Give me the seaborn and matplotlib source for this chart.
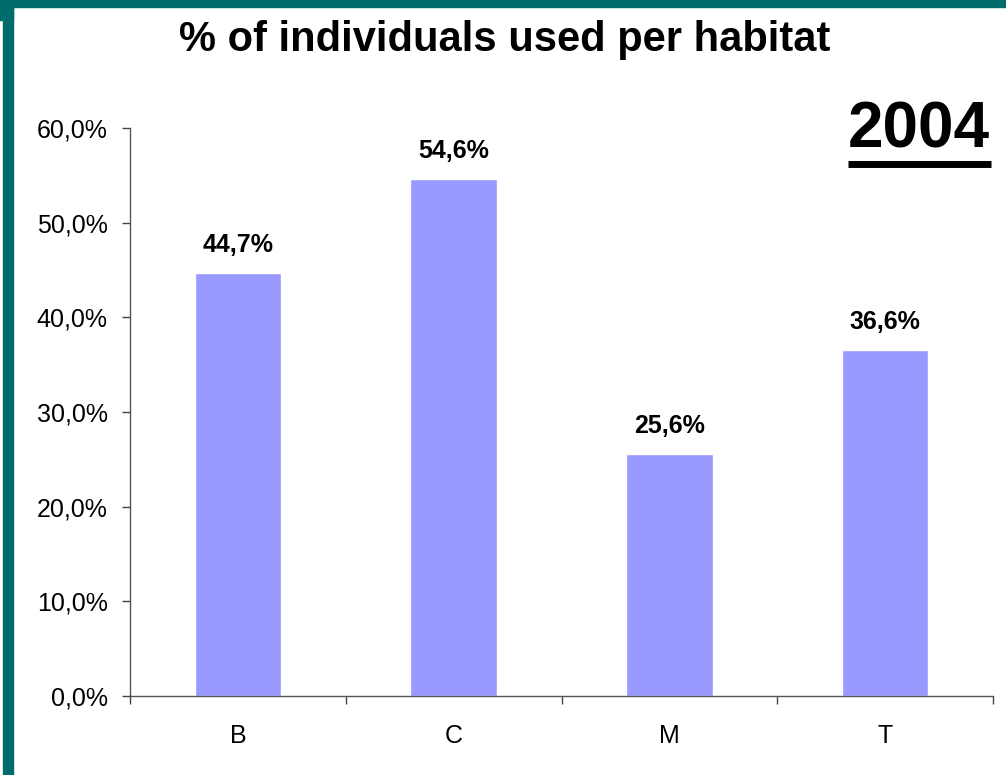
import matplotlib.pyplot as plt
import matplotlib.patches as mpatches
from matplotlib.lines import Line2D
import seaborn as sns
import pandas as pd

habitats = ["B", "C", "M", "T"]
percent_used = [44.7, 54.6, 25.6, 36.6]
value_labels = ["44,7%", "54,6%", "25,6%", "36,6%"]
y_ticks = [0, 10, 20, 30, 40, 50, 60]
y_tick_labels = ["0,0%", "10,0%", "20,0%", "30,0%", "40,0%", "50,0%", "60,0%"]

sns.set_theme(style="ticks", rc={"text.color": "black", "xtick.color": "#444444",
                                 "ytick.color": "#444444", "xtick.labelcolor": "black",
                                 "ytick.labelcolor": "black"})
plt.rcParams['font.family'] = ['Liberation Sans', 'DejaVu Sans']

W, H = 1006, 775
fig = plt.figure(figsize=(W / 100, H / 100), dpi=100)
fig.patch.set_facecolor("white")

# slide frame (teal band on top and left)
teal = "#006B6B"
fig.patches.append(mpatches.Rectangle((0, 1 - 7 / H), 1, 7 / H, transform=fig.transFigure,
                                      color=teal, zorder=0))
fig.patches.append(mpatches.Rectangle((3 / W, 0), 10 / W, 1, transform=fig.transFigure,
                                      color=teal, zorder=0))
fig.patches.append(mpatches.Rectangle((0, 1 - 20 / H), 13 / W, 20 / H, transform=fig.transFigure,
                                      color=teal, zorder=0))

ax = fig.add_axes([130 / W, 1 - 696 / H, (993 - 130) / W, (696 - 128) / H])
df = pd.DataFrame({"habitat": habitats, "pct": percent_used})
sns.barplot(data=df, x="habitat", y="pct", color="#9999FF", width=0.4, saturation=1, ax=ax)

ax.set_ylim(0, 60)
ax.set_xlim(-0.5, len(habitats) - 0.5)
ax.set_yticks(y_ticks)
ax.set_yticklabels(y_tick_labels, fontsize=18)
ax.set_xticks(range(len(habitats)))
ax.set_xticklabels(habitats, fontsize=18)
ax.set_xlabel("")
ax.set_ylabel("")

# category separators as minor ticks on the x axis
ax.set_xticks([i + 0.5 for i in range(-1, len(habitats))], minor=True)
ax.tick_params(axis="x", which="major", bottom=True, length=0, pad=20)
ax.tick_params(axis="x", which="minor", bottom=True, length=6, width=1, direction="out")
ax.tick_params(axis="y", left=True, length=6, width=1, direction="out", pad=10)

for side in ["top", "right"]:
    ax.spines[side].set_visible(False)
for side in ["left", "bottom"]:
    ax.spines[side].set_color("#555555")
    ax.spines[side].set_linewidth(1)

for i, (v, lab) in enumerate(zip(percent_used, value_labels)):
    ax.annotate(lab, (i, v), xytext=(0, 15), textcoords="offset points",
                ha="center", va="baseline", fontsize=18, fontweight="bold")

fig.text(505 / W, 1 - 40 / H, "% of individuals used per habitat", ha="center", va="center",
         fontsize=30, fontweight="bold")
fig.text(919 / W, 1 - 131 / H, "2004", ha="center", va="center", fontsize=46, fontweight="bold")
fig.lines.append(Line2D([848 / W, 991 / W], [1 - 163.5 / H, 1 - 163.5 / H], transform=fig.transFigure,
                        color="black", linewidth=5, solid_capstyle="butt"))

fig.savefig("out.png", dpi=100)
